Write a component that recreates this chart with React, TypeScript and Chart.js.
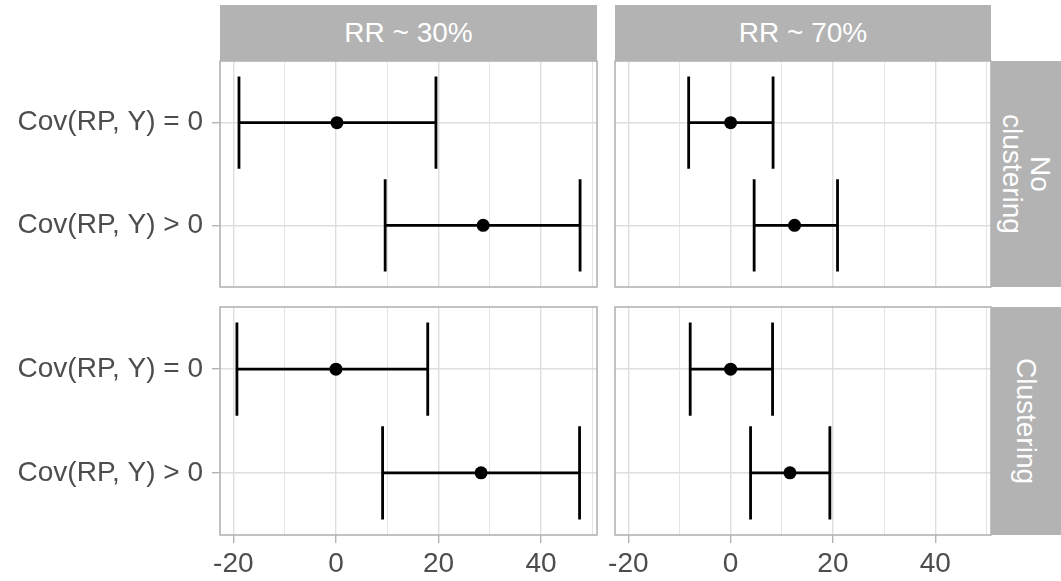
import React, { useEffect, useRef } from 'react';
import { Chart, registerables } from 'chart.js';

Chart.register(...registerables);

// ---- data ----
const rowLabels = ['Cov(RP, Y) = 0', 'Cov(RP, Y) > 0'];
const colStrips = ['RR ~ 30%', 'RR ~ 70%'];
const rowStrips = ['No\nclustering', 'Clustering'];
const xTickLabels = [-20, 0, 20, 40];

const estNoClust30 = [0.2, 28.7];
const loNoClust30 = [-18.9, 9.6];
const hiNoClust30 = [19.5, 47.6];

const estNoClust70 = [0.0, 12.5];
const loNoClust70 = [-8.2, 4.6];
const hiNoClust70 = [8.3, 20.9];

const estClust30 = [0.0, 28.3];
const loClust30 = [-19.3, 9.1];
const hiClust30 = [17.9, 47.5];

const estClust70 = [0.0, 11.6];
const loClust70 = [-7.9, 3.9];
const hiClust70 = [8.2, 19.4];

const X_MIN = -22.6;
const X_MAX = 50.9;

// ---- styles ----
const FONT = "'Liberation Sans', Arial, sans-serif";
const FONT_SIZE = 28;
const TEXT_COLOR = '#4D4D4D';
const GRID = '#DEDEDE';
const GREY70 = '#B3B3B3';
const CAP = 0.45;

const PANEL_LEFT = [220, 615];
const PANEL_RIGHT = [597, 991];
const PANEL_TOP = [61, 307];
const PANEL_BOTTOM = [287, 535];
const CANVAS_LEFT = [0, 600];

const borderPlugin = {
  id: 'panelBorder',
  afterDraw(chart: any) {
    const { ctx, chartArea: a } = chart;
    ctx.save();
    ctx.strokeStyle = GREY70;
    ctx.lineWidth = 1.6;
    ctx.strokeRect(a.left, a.top, a.right - a.left, a.bottom - a.top);
    ctx.restore();
  },
};

type PanelProps = { est: number[]; lo: number[]; hi: number[]; col: number; row: number };

function Panel({ est, lo, hi, col, row }: PanelProps) {
  const ref = useRef<HTMLCanvasElement>(null);
  const canvasLeft = CANVAS_LEFT[col];
  const padTop = 2;
  const padRight = 3;
  const xAxisH = row === 1 ? 46 : 0;
  const padBottom = row === 1 ? 0 : 2;
  const width = PANEL_RIGHT[col] + padRight - canvasLeft;
  const height = padTop + (PANEL_BOTTOM[row] - PANEL_TOP[row]) + xAxisH + padBottom;
  const yAxisW = PANEL_LEFT[col] - canvasLeft;

  useEffect(() => {
    if (!ref.current) return;
    const datasets: any[] = [];
    const seg = {
      showLine: true,
      borderColor: '#000',
      borderWidth: 2.8,
      pointRadius: 0,
      borderCapStyle: 'butt',
    };
    rowLabels.forEach((_, i) => {
      const y = i + 1;
      datasets.push({ ...seg, data: [{ x: lo[i], y }, { x: hi[i], y }] });
      datasets.push({ ...seg, data: [{ x: lo[i], y: y - CAP }, { x: lo[i], y: y + CAP }] });
      datasets.push({ ...seg, data: [{ x: hi[i], y: y - CAP }, { x: hi[i], y: y + CAP }] });
    });
    datasets.push({
      data: est.map((v, i) => ({ x: v, y: i + 1 })),
      showLine: false,
      pointRadius: 6.5,
      pointBackgroundColor: '#000',
      pointBorderWidth: 0,
      backgroundColor: '#000',
    });

    const chart = new Chart(ref.current, {
      type: 'scatter',
      data: { datasets },
      options: {
        animation: false,
        responsive: false,
        events: [],
        layout: {
          autoPadding: false,
          padding: { top: padTop, right: padRight, bottom: padBottom, left: 0 },
        },
        plugins: { legend: { display: false }, tooltip: { enabled: false } },
        scales: {
          x: {
            type: 'linear',
            min: X_MIN,
            max: X_MAX,
            afterFit: (s: any) => {
              s.height = xAxisH;
              s.paddingLeft = 0;
              s.paddingRight = 0;
            },
            ticks: {
              display: row === 1,
              stepSize: 10,
              includeBounds: false,
              autoSkip: false,
              maxRotation: 0,
              minRotation: 0,
              padding: 4,
              color: TEXT_COLOR,
              font: { family: FONT, size: FONT_SIZE },
              callback: (v: any) => (xTickLabels.includes(Number(v)) ? String(v) : ''),
            },
            grid: {
              color: GRID,
              lineWidth: (ctx: any) => (ctx.tick && xTickLabels.includes(ctx.tick.value) ? 1.4 : 0.8),
              drawTicks: row === 1,
              tickLength: 8,
              tickWidth: 1.4,
              tickColor: (ctx: any) =>
                ctx.tick && xTickLabels.includes(ctx.tick.value) ? GREY70 : 'rgba(0,0,0,0)',
            },
            border: { display: false },
          },
          y: {
            type: 'linear',
            reverse: true,
            min: 0.4,
            max: 2.6,
            afterFit: (s: any) => {
              s.width = yAxisW;
              s.paddingTop = 0;
              s.paddingBottom = 0;
            },
            ticks: {
              display: col === 0,
              stepSize: 1,
              includeBounds: false,
              autoSkip: false,
              padding: 9,
              color: TEXT_COLOR,
              font: { family: FONT, size: FONT_SIZE },
              callback: (v: any) => rowLabels[Number(v) - 1] ?? '',
            },
            grid: {
              color: GRID,
              lineWidth: 1.4,
              drawTicks: col === 0,
              tickLength: 8,
              tickWidth: 1.4,
              tickColor: GREY70,
            },
            border: { display: false },
          },
        },
      } as any,
      plugins: [borderPlugin],
    });
    return () => chart.destroy();
  }, []);

  return (
    <canvas
      ref={ref}
      width={width}
      height={height}
      style={{
        position: 'absolute',
        left: canvasLeft,
        top: PANEL_TOP[row] - padTop,
        width,
        height,
      }}
    />
  );
}

const stripText: React.CSSProperties = {
  position: 'absolute',
  background: GREY70,
  color: '#FFFFFF',
  fontFamily: FONT,
  fontSize: FONT_SIZE,
  display: 'flex',
  alignItems: 'center',
  justifyContent: 'center',
  overflow: 'hidden',
};

export default function App() {
  return (
    <div
      style={{
        position: 'absolute',
        left: 0,
        top: 0,
        width: 1061,
        height: 581,
        background: '#FFFFFF',
        overflow: 'hidden',
      }}
    >
      {colStrips.map((t, c) => (
        <div
          key={'cs' + c}
          style={{
            ...stripText,
            left: PANEL_LEFT[c],
            top: 5,
            width: PANEL_RIGHT[c] - PANEL_LEFT[c],
            height: 56,
          }}
        >
          {t}
        </div>
      ))}
      {rowStrips.map((t, r) => (
        <div
          key={'rs' + r}
          style={{
            ...stripText,
            left: PANEL_RIGHT[1],
            top: PANEL_TOP[r],
            width: 1061 - PANEL_RIGHT[1],
            height: PANEL_BOTTOM[r] - PANEL_TOP[r],
          }}
        >
          <span
            style={{
              display: 'inline-block',
              transform: 'rotate(90deg)',
              whiteSpace: 'pre',
              textAlign: 'center',
              lineHeight: '28px',
            }}
          >
            {t}
          </span>
        </div>
      ))}
      <Panel est={estNoClust30} lo={loNoClust30} hi={hiNoClust30} col={0} row={0} />
      <Panel est={estNoClust70} lo={loNoClust70} hi={hiNoClust70} col={1} row={0} />
      <Panel est={estClust30} lo={loClust30} hi={hiClust30} col={0} row={1} />
      <Panel est={estClust70} lo={loClust70} hi={hiClust70} col={1} row={1} />
    </div>
  );
}
